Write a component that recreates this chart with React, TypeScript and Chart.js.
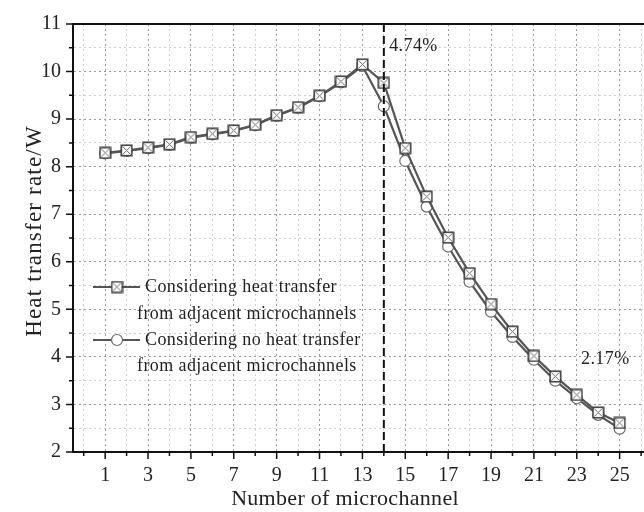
import React, { useEffect, useRef } from 'react';
import { Chart, registerables } from 'chart.js';

Chart.register(...registerables);

// ---------------- data ----------------
const channels = [1, 2, 3, 4, 5, 6, 7, 8, 9, 10, 11, 12, 13, 14, 15, 16, 17, 18, 19, 20, 21, 22, 23, 24, 25];
const withAdjacent = [8.29, 8.34, 8.4, 8.47, 8.62, 8.69, 8.76, 8.88, 9.08, 9.25, 9.49, 9.79, 10.15, 9.76, 8.39, 7.37, 6.51, 5.76, 5.11, 4.53, 4.02, 3.59, 3.2, 2.83, 2.61];
const withoutAdjacent = [8.28, 8.33, 8.39, 8.46, 8.61, 8.68, 8.75, 8.87, 9.07, 9.24, 9.48, 9.77, 10.12, 9.27, 8.12, 7.16, 6.32, 5.58, 4.95, 4.42, 3.94, 3.5, 3.13, 2.78, 2.49];
const xTickValues = [0, 1, 2, 3, 4, 5, 6, 7, 8, 9, 10, 11, 12, 13, 14, 15, 16, 17, 18, 19, 20, 21, 22, 23, 24, 25, 26];
const xLabelled = [1, 3, 5, 7, 9, 11, 13, 15, 17, 19, 21, 23, 25];
const yTickValues = [2, 2.5, 3, 3.5, 4, 4.5, 5, 5.5, 6, 6.5, 7, 7.5, 8, 8.5, 9, 9.5, 10, 10.5, 11];
const seriesNames = [
  ['Considering heat transfer', 'from adjacent microchannels'],
  ['Considering no heat transfer', 'from adjacent microchannels'],
];
const dividerChannel = 14;
const noteTexts = ['4.74%', '2.17%'];
const noteAnchors = [
  [14.25, 10.53],
  [23.2, 3.94],
];
const xTitle = 'Number of microchannel';
const yTitle = 'Heat transfer rate/W';

const FONT = '"Liberation Serif", "DejaVu Serif", serif';
const LINE = '#555555';

function makeSquareMarker(): HTMLCanvasElement {
  const s = 13;
  const c = document.createElement('canvas');
  c.width = s;
  c.height = s;
  const g = c.getContext('2d')!;
  g.fillStyle = '#ffffff';
  g.fillRect(1, 1, 11, 11);
  g.strokeStyle = '#6a6a6a';
  g.lineWidth = 1;
  g.beginPath();
  g.moveTo(2.5, 2.5);
  g.lineTo(10.5, 10.5);
  g.moveTo(10.5, 2.5);
  g.lineTo(2.5, 10.5);
  g.stroke();
  g.strokeStyle = '#454545';
  g.lineWidth = 1.6;
  g.strokeRect(1.25, 1.25, 10.5, 10.5);
  return c;
}

function drawCircle(ctx: CanvasRenderingContext2D, x: number, y: number) {
  ctx.save();
  ctx.beginPath();
  ctx.arc(x, y, 5.5, 0, Math.PI * 2);
  ctx.fillStyle = '#ffffff';
  ctx.fill();
  ctx.lineWidth = 1.2;
  ctx.strokeStyle = '#6a6a6a';
  ctx.stroke();
  ctx.restore();
}

export default function App() {
  const ref = useRef<HTMLCanvasElement | null>(null);

  useEffect(() => {
    if (!ref.current) return;
    const square = makeSquareMarker();

    const decorPlugin = {
      id: 'decor',
      afterDraw(chart: any) {
        const ctx: any = chart.ctx;
        const xs = chart.scales.x;
        const ys = chart.scales.y;
        const area = chart.chartArea;
        ctx.save();
        // top / right border
        ctx.strokeStyle = '#111';
        ctx.lineWidth = 2;
        ctx.beginPath();
        ctx.moveTo(area.left - 1, area.top);
        ctx.lineTo(area.right + 1, area.top);
        ctx.moveTo(area.right, area.top);
        ctx.lineTo(area.right, area.bottom);
        ctx.stroke();
        // tick marks
        ctx.lineWidth = 1.5;
        ctx.beginPath();
        xTickValues.forEach((v) => {
          const px = xs.getPixelForValue(v);
          const len = v % 2 === 1 ? 7 : 4;
          ctx.moveTo(px, area.bottom);
          ctx.lineTo(px, area.bottom + len);
        });
        yTickValues.forEach((v) => {
          const py = ys.getPixelForValue(v);
          const len = Number.isInteger(v) ? 7 : 4;
          ctx.moveTo(area.left, py);
          ctx.lineTo(area.left - len, py);
        });
        ctx.stroke();
        // divider
        const dx = xs.getPixelForValue(dividerChannel);
        ctx.setLineDash([8, 4]);
        ctx.lineWidth = 2;
        ctx.strokeStyle = '#111';
        ctx.beginPath();
        ctx.moveTo(dx, area.top);
        ctx.lineTo(dx, area.bottom);
        ctx.stroke();
        ctx.setLineDash([]);
        // notes
        ctx.fillStyle = '#222';
        ctx.font = `18px ${FONT}`;
        ctx.letterSpacing = '0.4px';
        ctx.textAlign = 'left';
        ctx.textBaseline = 'middle';
        noteTexts.forEach((t, i) => {
          ctx.fillText(t, xs.getPixelForValue(noteAnchors[i][0]), ys.getPixelForValue(noteAnchors[i][1]));
        });
        // legend
        const legendY = [287, 340];
        const subY = [314, 366];
        legendY.forEach((ly, i) => {
          ctx.strokeStyle = LINE;
          ctx.lineWidth = 2.2;
          ctx.beginPath();
          ctx.moveTo(93, ly);
          ctx.lineTo(140, ly);
          ctx.stroke();
          if (i === 0) ctx.drawImage(square, 117 - 6.5, ly - 6.5);
          else drawCircle(ctx, 117, ly);
          ctx.fillStyle = '#222';
          ctx.font = `18px ${FONT}`;
          ctx.letterSpacing = '0.4px';
          ctx.textAlign = 'left';
          ctx.textBaseline = 'middle';
          ctx.fillText(seriesNames[i][0], 145, ly);
          ctx.fillText(seriesNames[i][1], 137, subY[i]);
        });
        // axis titles
        ctx.fillStyle = '#222';
        ctx.font = `22px ${FONT}`;
        ctx.letterSpacing = '0.3px';
        ctx.textAlign = 'center';
        ctx.textBaseline = 'middle';
        ctx.fillText(xTitle, 345, 499);
        ctx.save();
        ctx.translate(35, 231);
        ctx.rotate(-Math.PI / 2);
        ctx.font = `23px ${FONT}`;
        ctx.letterSpacing = '1.2px';
        ctx.fillText(yTitle, 0, 0);
        ctx.restore();
        ctx.letterSpacing = '0px';
        ctx.restore();
      },
    };

    const chart = new Chart(ref.current, {
      type: 'line',
      data: {
        datasets: [
          {
            label: seriesNames[0].join(' '),
            data: channels.map((c, i) => ({ x: c, y: withAdjacent[i] })),
            borderColor: LINE,
            borderWidth: 2.2,
            pointStyle: square as any,
            pointRadius: 6,
            tension: 0,
          },
          {
            label: seriesNames[1].join(' '),
            data: channels.map((c, i) => ({ x: c, y: withoutAdjacent[i] })),
            borderColor: LINE,
            borderWidth: 2.2,
            pointStyle: 'circle',
            pointRadius: 5.5,
            pointBackgroundColor: '#ffffff',
            pointBorderColor: '#6a6a6a',
            pointBorderWidth: 1.2,
            tension: 0,
          },
        ],
      },
      options: {
        animation: false,
        responsive: false,
        events: [],
        layout: { padding: { top: 22, right: 8, left: 0, bottom: 0 } },
        plugins: { legend: { display: false }, tooltip: { enabled: false } },
        scales: {
          x: {
            type: 'linear',
            min: -0.5,
            max: 26.5,
            afterBuildTicks: (s: any) => {
              s.ticks = xTickValues.map((v) => ({ value: v }));
            },
            afterFit: (s: any) => {
              s.height = 60;
            },
            ticks: {
              autoSkip: false,
              maxRotation: 0,
              padding: 12,
              color: '#222',
              font: { family: FONT, size: 20 },
              callback: (v: any) => (xLabelled.includes(Number(v)) ? String(v) : ''),
            },
            grid: {
              drawTicks: false,
              color: (c: any) => (c.tick && c.tick.value % 2 === 1 ? '#9a9a9a' : '#d0d0d0'),
              lineWidth: 1,
            },
            border: { display: true, color: '#111', width: 2, dash: [2, 3] },
          },
          y: {
            type: 'linear',
            min: 2,
            max: 11,
            afterBuildTicks: (s: any) => {
              s.ticks = yTickValues.map((v) => ({ value: v }));
            },
            afterFit: (s: any) => {
              s.width = 73;
            },
            ticks: {
              autoSkip: false,
              padding: 12,
              color: '#222',
              font: { family: FONT, size: 20 },
              callback: (v: any) => (Number.isInteger(Number(v)) ? String(v) : ''),
            },
            grid: {
              drawTicks: false,
              color: (c: any) => (c.tick && Number.isInteger(c.tick.value) ? '#9a9a9a' : '#d0d0d0'),
              lineWidth: 1,
            },
            border: { display: true, color: '#111', width: 2, dash: [2, 3] },
          },
        },
      },
      plugins: [decorPlugin],
    });
    return () => chart.destroy();
  }, []);

  return (
    <div style={{ position: 'fixed', left: 0, top: 0, width: 644, height: 512, overflow: 'hidden', background: '#fff' }}>
      <canvas ref={ref} width={660} height={512} style={{ display: 'block', width: 660, height: 512 }} />
    </div>
  );
}
